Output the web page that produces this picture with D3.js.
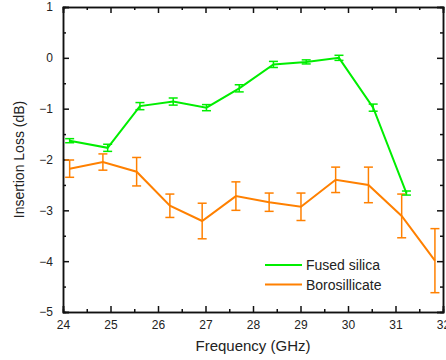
<!DOCTYPE html>
<html lang="en">
<head>
<meta charset="utf-8">
<title>Insertion Loss</title>
<script src="https://cdn.jsdelivr.net/npm/d3@7"></script>
<style>
body { margin: 0; background: #fff; }
text { font-family: Arial, "Liberation Sans", sans-serif; fill: #222; }
</style>
</head>
<body>
<script>
// Fused silica
var fusedFreq = [24.14, 24.94, 25.62, 26.32, 27.02, 27.71, 28.43, 29.12, 29.81, 30.53, 31.23];
var fusedLoss = [-1.63, -1.77, -0.95, -0.86, -0.98, -0.60, -0.13, -0.08, 0.0, -0.98, -2.66];
var fusedErr  = [0.04, 0.07, 0.07, 0.07, 0.06, 0.07, 0.06, 0.04, 0.05, 0.07, 0.04];

// Borosillicate
var boroFreq = [24.14, 24.84, 25.55, 26.25, 26.93, 27.64, 28.34, 29.01, 29.74, 30.43, 31.13, 31.83];
var boroLoss = [-2.18, -2.05, -2.24, -2.91, -3.21, -2.72, -2.84, -2.93, -2.40, -2.50, -3.11, -3.99];
var boroErr  = [0.17, 0.16, 0.28, 0.23, 0.35, 0.28, 0.18, 0.27, 0.25, 0.35, 0.43, 0.63];

var xTicks = [24, 25, 26, 27, 28, 29, 30, 31, 32];
var yTicks = [1, 0, -1, -2, -3, -4, -5];

var W = 446, H = 360;
var m = {left: 63, right: 3, top: 7, bottom: 48};

var svg = d3.select("body").append("svg")
    .attr("width", W).attr("height", H);

var x = d3.scaleLinear().domain([24, 32]).range([m.left, W - m.right]);
var y = d3.scaleLinear().domain([-5, 1]).range([H - m.bottom, m.top]);

var xMinor = d3.range(24.5, 32, 1);
var yMinor = d3.range(-4.5, 1, 1);

// axes, ticks inward
function addAxis(axis, tx, ty, labels) {
    var g = svg.append("g").attr("transform", "translate(" + tx + "," + ty + ")").call(axis);
    g.select(".domain").attr("stroke", "#111").attr("stroke-width", 1.5);
    g.selectAll(".tick line").attr("stroke", "#111").attr("stroke-width", 1.5);
    g.selectAll("text").style("font-size", "12px").attr("fill", "#222");
    if (!labels) g.selectAll("text").remove();
    return g;
}
var yb = H - m.bottom, xr = W - m.right;

addAxis(d3.axisBottom(x).tickValues(xMinor).tickSize(-3).tickFormat(""), 0, yb, false);
addAxis(d3.axisBottom(x).tickValues(xTicks).tickSize(-6).tickPadding(8).tickFormat(d3.format("d")), 0, yb, true);
addAxis(d3.axisTop(x).tickValues(xMinor).tickSize(-3).tickFormat(""), 0, m.top, false);
addAxis(d3.axisTop(x).tickValues(xTicks).tickSize(-6).tickFormat(""), 0, m.top, false);
addAxis(d3.axisLeft(y).tickValues(yMinor).tickSize(-3).tickFormat(""), m.left, 0, false);
addAxis(d3.axisLeft(y).tickValues(yTicks).tickSize(-6).tickPadding(10).tickFormat(d3.format("d")), m.left, 0, true);
addAxis(d3.axisRight(y).tickValues(yMinor).tickSize(-3).tickFormat(""), xr, 0, false);
addAxis(d3.axisRight(y).tickValues(yTicks).tickSize(-6).tickFormat(""), xr, 0, false);

// axis titles
svg.append("text")
    .attr("x", (m.left + xr) / 2).attr("y", 351)
    .attr("text-anchor", "middle").style("font-size", "15px")
    .text("Frequency (GHz)");
svg.append("text")
    .attr("transform", "translate(24," + ((m.top + yb) / 2) + ") rotate(-90)")
    .attr("text-anchor", "middle").style("font-size", "14px")
    .text("Insertion Loss (dB)");

function drawSeries(fx, fy, fe, color) {
    var pts = fx.map(function(d, i) { return {f: d, v: fy[i], e: fe[i]}; });
    var line = d3.line().x(function(d) { return x(d.f); }).y(function(d) { return y(d.v); });
    svg.append("path").datum(pts)
        .attr("fill", "none").attr("stroke", color).attr("stroke-width", 2)
        .attr("d", line);
    var eb = svg.append("g").selectAll("g").data(pts).enter().append("g")
        .attr("stroke", color).attr("stroke-width", 1.5);
    eb.append("line")
        .attr("x1", function(d) { return x(d.f); }).attr("x2", function(d) { return x(d.f); })
        .attr("y1", function(d) { return y(d.v + d.e); }).attr("y2", function(d) { return y(d.v - d.e); });
    eb.append("line")
        .attr("x1", function(d) { return x(d.f) - 4.5; }).attr("x2", function(d) { return x(d.f) + 4.5; })
        .attr("y1", function(d) { return y(d.v + d.e); }).attr("y2", function(d) { return y(d.v + d.e); });
    eb.append("line")
        .attr("x1", function(d) { return x(d.f) - 4.5; }).attr("x2", function(d) { return x(d.f) + 4.5; })
        .attr("y1", function(d) { return y(d.v - d.e); }).attr("y2", function(d) { return y(d.v - d.e); });
}

drawSeries(boroFreq, boroLoss, boroErr, "#ff8000");
drawSeries(fusedFreq, fusedLoss, fusedErr, "#00ee00");

// legend
var legend = [{name: "Fused silica", color: "#00ee00"}, {name: "Borosillicate", color: "#ff8000"}];
var lg = svg.append("g").selectAll("g").data(legend).enter().append("g")
    .attr("transform", function(d, i) { return "translate(265," + (265 + i * 19.5) + ")"; });
lg.append("line").attr("x1", 0).attr("x2", 37).attr("stroke", function(d) { return d.color; }).attr("stroke-width", 2);
lg.append("text").attr("x", 41).attr("y", 5).style("font-size", "14px").text(function(d) { return d.name; });
</script>
</body>
</html>
